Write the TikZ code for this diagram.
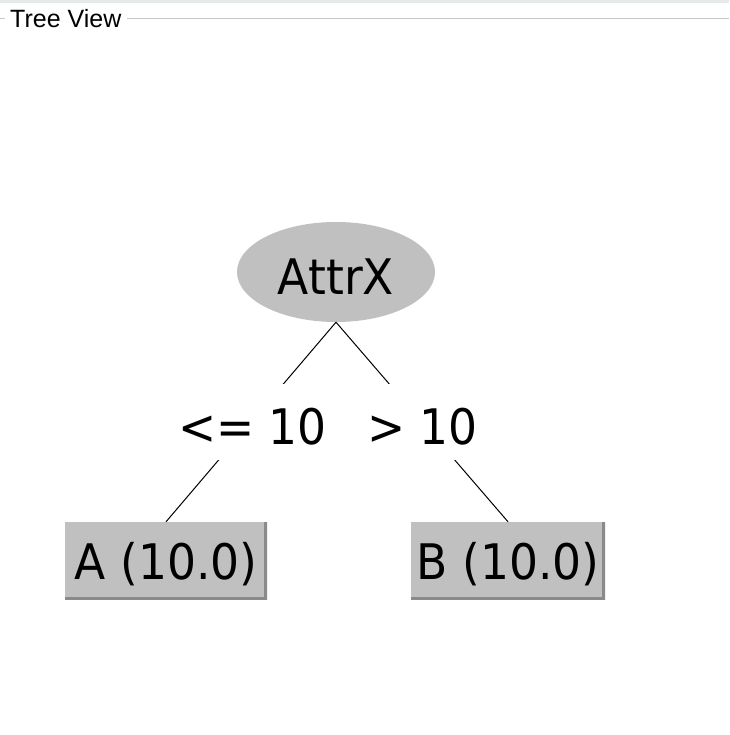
\documentclass[tikz,border=0pt]{standalone}
\usepackage{fontspec}
\setmainfont{DejaVu Sans}
\newfontfamily\titlefont{Liberation Sans}
\newfontfamily\treeface[FakeStretch=0.93]{DejaVu Sans}
\usetikzlibrary{shapes.geometric}
\definecolor{boxgray}{HTML}{C0C0C0}
\definecolor{shadegray}{HTML}{8A8A8A}
\definecolor{framegray}{HTML}{C8C8C8}
\definecolor{topgray}{HTML}{E6EAEA}
\tikzset{
  treefont/.style={font=\treeface\fontsize{49}{52}\selectfont},
  attrnode/.style={ellipse, fill=boxgray, inner sep=0pt, minimum width=198pt,
    minimum height=100pt, treefont, text height=46pt, text depth=0pt},
  leafbox/.style={rectangle, fill=boxgray, inner sep=0pt, minimum height=78pt,
    treefont, text height=58pt, text depth=20pt,
    path picture={\draw[shadegray, line width=6pt]
      (path picture bounding box.north east) -- (path picture bounding box.south east)
      -- (path picture bounding box.south west);}},
  edgelabel/.style={fill=white, inner sep=0pt, treefont, text height=61pt,
    text depth=15pt, anchor=base},
  edge/.style={black, line width=1pt},
  frameline/.style={framegray, line width=1.5pt}
}
\begin{document}
\begin{tikzpicture}[x=1pt,y=1pt]
\useasboundingbox (0,0) rectangle (729,735);
\fill[white] (0,0) rectangle (729,735);
% top strip
\fill[topgray] (0,732) rectangle (729,735);
% titled border
\node[anchor=base west, inner sep=0pt, font=\titlefont\fontsize{25}{28}\selectfont] (title) at (10,707) {Tree View};
\coordinate (fl) at (0,716.5);
\coordinate (fr) at (729,716.5);
\draw[frameline] (fl) -- ([xshift=-5pt]title.west |- fl);
\draw[frameline] ([xshift=5pt]title.east |- fr) -- (fr);
% nodes
\node[attrnode] (attr) at (336,463) {AttrX};
\node[leafbox, minimum width=202pt] (a) at (166,174) {A (10.0)};
\node[leafbox, minimum width=194pt] (b) at (508,174) {B (10.0)};
% edges
\draw[edge] (attr.south) -- (a.north);
\draw[edge] (attr.south) -- (b.north);
% edge labels
\node[edgelabel] (l1) at (252.5,290) {<= 10};
\node[edgelabel] (l2) at (422.5,290) {> 10};
\end{tikzpicture}
\end{document}
